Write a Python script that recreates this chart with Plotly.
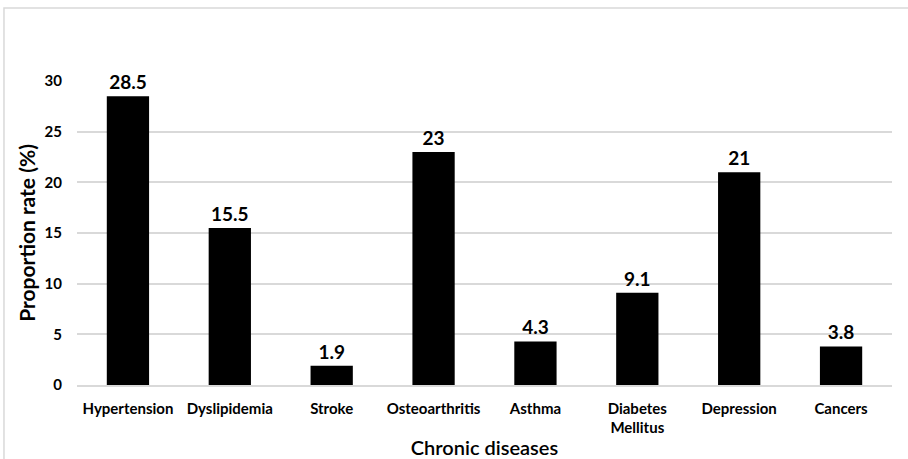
import plotly.graph_objects as go

# Chronic disease prevalence
diseases = ["Hypertension", "Dyslipidemia", "Stroke", "Osteoarthritis",
            "Asthma", "Diabetes<br>Mellitus", "Depression", "Cancers"]
rates = [28.5, 15.5, 1.9, 23, 4.3, 9.1, 21, 3.8]
y_ticks = [0, 5, 10, 15, 20, 25, 30]

FONT = "Lato"

fig = go.Figure(go.Bar(
    x=diseases,
    y=rates,
    marker=dict(color="black", line=dict(width=0)),
    text=[f"{v:g}" for v in rates],
    textposition="outside",
    textfont=dict(family=FONT, size=19, color="black", weight="bold"),
    cliponaxis=False,
))

fig.update_layout(
    width=908, height=459,
    margin=dict(l=77, r=16, t=81, b=74),
    paper_bgcolor="white",
    plot_bgcolor="white",
    bargap=0.585,
    showlegend=False,
    font=dict(family=FONT, color="black"),
    xaxis=dict(
        automargin=False,
        tickfont=dict(family=FONT, size=15, color="black", weight="bold"),
        showgrid=False,
        showline=True, linecolor="#d9d9d9", linewidth=1.5,
        ticks="", ticklabelstandoff=9,
        title=dict(text="Chronic diseases", standoff=11,
                   font=dict(family=FONT, size=20, color="black", weight=600)),
    ),
    yaxis=dict(
        automargin=False,
        range=[0, 30],
        tickvals=y_ticks,
        tickfont=dict(family=FONT, size=15, color="black", weight="bold"),
        showgrid=True, gridcolor="#d9d9d9", gridwidth=1.5,
        zeroline=False,
        ticks="", ticklabelstandoff=14,
        title=dict(text="Proportion rate (%)", standoff=3,
                   font=dict(family=FONT, size=21, color="black", weight="bold")),
    ),
    shapes=[dict(type="rect", xref="paper", yref="paper",
                 x0=-0.0896, x1=1.2, y0=-0.5, y1=1.240,
                 line=dict(color="#d9d9d9", width=1.5), layer="below")],
)

fig.write_html("out.html")
